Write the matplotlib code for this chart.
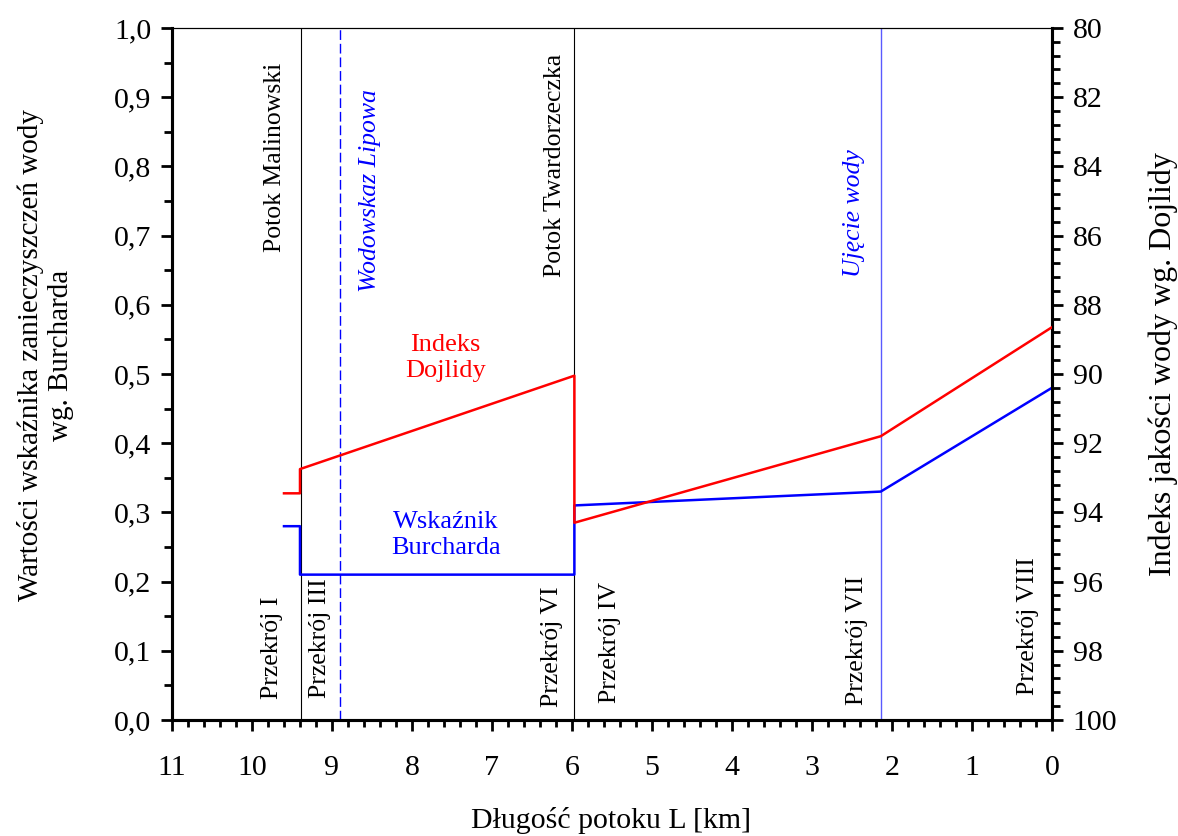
import matplotlib
matplotlib.use("Agg")
import matplotlib.pyplot as plt
from matplotlib.ticker import MultipleLocator, FuncFormatter

plt.rcParams["font.family"] = ["Liberation Serif", "DejaVu Serif"]

# Stream chainage [km] at which each series changes
x_km = [9.6, 9.4, 9.4, 5.97, 5.97, 2.14, 0.0]
# Burchard pollution indicator (left axis)
burchard = [0.28, 0.28, 0.21, 0.21, 0.31, 0.33, 0.48]
# Dojlidy water quality index (right axis)
dojlidy = [93.45, 93.45, 92.75, 90.05, 94.3, 91.8, 88.65]

# Tributaries and gauges along the stream
tributary_km = [9.39, 5.97]
gauge_km = 8.90
intake_km = 2.14

# Vertical labels: (text, x, y, colour, italic, anchor)
site_labels = [
    ("Potok Malinowski", 9.71, 0.950, "black", False, "top"),
    ("Wodowskaz Lipowa", 8.53, 0.912, "blue", True, "top"),
    ("Potok Twardorzeczka", 6.21, 0.962, "black", False, "top"),
    ("Ujęcie wody", 2.48, 0.824, "blue", True, "top"),
    ("Przekrój I", 9.75, 0.031, "black", False, "bottom"),
    ("Przekrój III", 9.15, 0.032, "black", False, "bottom"),
    ("Przekrój VI", 6.25, 0.019, "black", False, "bottom"),
    ("Przekrój IV", 5.52, 0.024, "black", False, "bottom"),
    ("Przekrój VII", 2.44, 0.022, "black", False, "bottom"),
    ("Przekrój VIII", 0.30, 0.036, "black", False, "bottom"),
]

left_ticks = [0.0, 0.1, 0.2, 0.3, 0.4, 0.5, 0.6, 0.7, 0.8, 0.9, 1.0]
right_ticks = [80, 82, 84, 86, 88, 90, 92, 94, 96, 98, 100]
x_ticks = [11, 10, 9, 8, 7, 6, 5, 4, 3, 2, 1, 0]

W, H = 1178, 836
fig = plt.figure(figsize=(W / 100, H / 100), dpi=100)
ax = fig.add_axes([0.146, 0.1388, 0.747, 0.8278])
ax2 = ax.twinx()

ax.set_xlim(11, 0)
ax.set_ylim(0, 1)
ax2.set_ylim(100, 80)

# reference lines
for xv in tributary_km:
    ax.axvline(xv, color="black", lw=0.8, zorder=1)
ax.axvline(gauge_km, color="blue", lw=1.0, linestyle=(0, (7, 2.8)), zorder=1)
ax.axvline(intake_km, color="#5a5aff", lw=1.0, zorder=1)

# data series
ax.plot(x_km, burchard, color="blue", lw=1.8, zorder=3)
ax2.plot(x_km, dojlidy, color="red", lw=1.8, zorder=3)

for txt, xv, yv, col, it, va in site_labels:
    ax.text(xv, yv, txt, rotation=90, ha="center", va=va, color=col,
            fontsize=18.5, style="italic" if it else "normal", zorder=4)

ax.text(7.58, 0.523, "Indeks\nDojlidy", color="red", ha="center", va="center",
        fontsize=19, linespacing=1.25)
ax.text(7.58, 0.267, "Wskaźnik\nBurcharda", color="blue", ha="center", va="center",
        fontsize=19, linespacing=1.25)

# axes styling
ax.set_xticks(x_ticks)
ax.xaxis.set_minor_locator(MultipleLocator(0.2))
ax.set_yticks(left_ticks)
ax.yaxis.set_minor_locator(MultipleLocator(0.05))
ax.yaxis.set_major_formatter(FuncFormatter(lambda v, p: f"{v:.1f}".replace(".", ",")))
ax2.set_yticks(right_ticks)
ax2.yaxis.set_minor_locator(MultipleLocator(0.4))

for a in (ax, ax2):
    for s in ("left", "right", "bottom"):
        a.spines[s].set_linewidth(2.2)
    a.spines["top"].set_linewidth(0.8)

ax.tick_params(axis="x", which="major", direction="out", length=8, width=2, labelsize=21.5, pad=17)
ax.tick_params(axis="x", which="minor", direction="out", length=5, width=2)
ax.tick_params(axis="y", which="major", direction="out", length=8, width=2, labelsize=21.5, pad=7)
ax.tick_params(axis="y", which="minor", direction="out", length=6, width=2)
ax2.tick_params(axis="y", which="major", direction="out", length=8, width=2, labelsize=21.5, pad=7)
ax2.tick_params(axis="y", which="minor", direction="out", length=6, width=2)

# axis titles
fig.text(611 / W, 1 - 820 / H, "Długość potoku L [km]", fontsize=21.5,
         ha="center", va="center")
fig.text(46 / W, 1 - 355 / H, "Wartości wskaźnika zanieczyszczeń wody\nwg. Burcharda",
         fontsize=21, rotation=90, ha="center", va="center", linespacing=1.2,
         multialignment="center")
fig.text(1163 / W, 1 - 364 / H, "Indeks jakości wody wg. Dojlidy", fontsize=23,
         rotation=90, ha="center", va="center")

fig.savefig("out.png", dpi=100)
